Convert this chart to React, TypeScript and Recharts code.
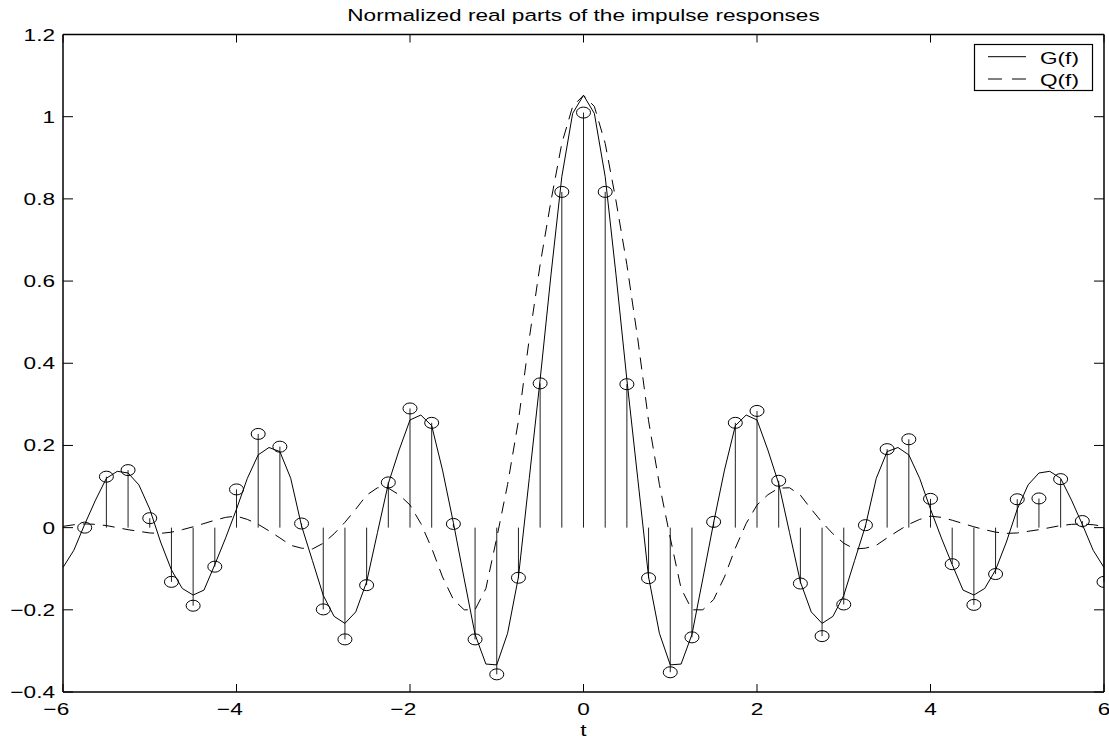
import React from 'react';
import { ComposedChart, Line, Scatter, ErrorBar, XAxis, YAxis } from 'recharts';

const tGrid = [
  -6, -5.875, -5.75, -5.625, -5.5, -5.375, -5.25, -5.125, -5, -4.875, -4.75, -4.625, -4.5, -4.375, -4.25, -4.125,
  -4, -3.875, -3.75, -3.625, -3.5, -3.375, -3.25, -3.125, -3, -2.875, -2.75, -2.625, -2.5, -2.375, -2.25, -2.125,
  -2, -1.875, -1.75, -1.625, -1.5, -1.375, -1.25, -1.125, -1, -0.875, -0.75, -0.625, -0.5, -0.375, -0.25, -0.125,
  0, 0.125, 0.25, 0.375, 0.5, 0.625, 0.75, 0.875, 1, 1.125, 1.25, 1.375, 1.5, 1.625, 1.75, 1.875,
  2, 2.125, 2.25, 2.375, 2.5, 2.625, 2.75, 2.875, 3, 3.125, 3.25, 3.375, 3.5, 3.625, 3.75, 3.875,
  4, 4.125, 4.25, 4.375, 4.5, 4.625, 4.75, 4.875, 5, 5.125, 5.25, 5.375, 5.5, 5.625, 5.75, 5.875, 6,
];

const gValues = [
  -0.097, -0.055, 0.008, 0.067, 0.12, 0.137, 0.133, 0.104, 0.045, -0.035, -0.103, -0.148, -0.164, -0.152, -0.09, -0.025,
  0.045, 0.12, 0.177, 0.195, 0.185, 0.12, 0.004, -0.08, -0.165, -0.216, -0.233, -0.205, -0.132, -0.012, 0.107, 0.189,
  0.262, 0.274, 0.248, 0.14, 0.012, -0.125, -0.26, -0.332, -0.334, -0.257, -0.12, 0.12, 0.36, 0.615, 0.854, 1.008,
  1.052, 1.008, 0.854, 0.615, 0.36, 0.12, -0.12, -0.257, -0.334, -0.332, -0.26, -0.125, 0.012, 0.14, 0.248, 0.274,
  0.262, 0.189, 0.107, -0.012, -0.132, -0.205, -0.233, -0.216, -0.165, -0.08, 0.004, 0.12, 0.185, 0.195, 0.177, 0.12,
  0.045, -0.025, -0.09, -0.152, -0.164, -0.148, -0.103, -0.035, 0.045, 0.104, 0.133, 0.137, 0.12, 0.067, 0.008, -0.055, -0.097,
];

const qValues = [
  0.003, 0.007, 0.009, 0.008, 0.005, 0.0, -0.005, -0.009, -0.013, -0.014, -0.011, -0.005, 0.002, 0.01, 0.018, 0.025,
  0.028, 0.02, 0.008, -0.008, -0.025, -0.043, -0.05, -0.052, -0.038, -0.015, 0.013, 0.045, 0.079, 0.097, 0.096, 0.08,
  0.055, 0.01, -0.05, -0.12, -0.175, -0.2, -0.2, -0.148, -0.025, 0.105, 0.26, 0.46, 0.64, 0.795, 0.935, 1.025,
  1.052, 1.025, 0.935, 0.795, 0.64, 0.46, 0.26, 0.105, -0.025, -0.148, -0.2, -0.2, -0.175, -0.12, -0.05, 0.01,
  0.055, 0.08, 0.096, 0.097, 0.079, 0.045, 0.013, -0.015, -0.038, -0.052, -0.05, -0.043, -0.025, -0.008, 0.008, 0.02,
  0.028, 0.025, 0.018, 0.01, 0.002, -0.005, -0.011, -0.014, -0.013, -0.009, -0.005, 0.0, 0.005, 0.008, 0.009, 0.007, 0.003,
];

const stemT = [
  -5.75, -5.5, -5.25, -5, -4.75, -4.5, -4.25, -4, -3.75, -3.5, -3.25, -3, -2.75, -2.5, -2.25, -2,
  -1.75, -1.5, -1.25, -1, -0.75, -0.5, -0.25, 0, 0.25, 0.5, 0.75, 1, 1.25, 1.5, 1.75, 2,
  2.25, 2.5, 2.75, 3, 3.25, 3.5, 3.75, 4, 4.25, 4.5, 4.75, 5, 5.25, 5.5, 5.75, 6,
];

const stemValues = [
  0.0, 0.124, 0.14, 0.023, -0.132, -0.19, -0.095, 0.093, 0.228, 0.197, 0.01, -0.199, -0.272, -0.14, 0.11, 0.29,
  0.255, 0.009, -0.272, -0.357, -0.122, 0.351, 0.817, 1.01, 0.817, 0.349, -0.123, -0.352, -0.267, 0.014, 0.255, 0.284,
  0.114, -0.136, -0.264, -0.187, 0.006, 0.191, 0.215, 0.07, -0.089, -0.188, -0.113, 0.069, 0.071, 0.118, 0.016, -0.132,
];

const xTicks = [-6, -4, -2, 0, 2, 4, 6];
const yTicks = [-0.4, -0.2, 0, 0.2, 0.4, 0.6, 0.8, 1, 1.2];
const yTickLabels: Record<string, string> = {
  '-0.4': '−0.4', '-0.2': '−0.2', '0': '0', '0.2': '0.2', '0.4': '0.4',
  '0.6': '0.6', '0.8': '0.8', '1': '1', '1.2': '1.2',
};

const titleText = 'Normalized real parts of the impulse responses';
const xLabel = 't';
const seriesNames = ['G(f)', 'Q(f)'];

const curveData = tGrid.map((t, i) => ({ t, g: gValues[i], q: qValues[i] }));
const stemData = stemT.map((t, i) => ({
  t,
  v: stemValues[i],
  err: stemValues[i] >= 0 ? [stemValues[i], 0] : [0, -stemValues[i]],
}));

const FONT = '"Liberation Sans", Arial, Helvetica, sans-serif';
const FS = 17;
const SX = 1.33;
const W = 1109;
const H = 740;

const XTickBottom = (props: any) => {
  const { x, y, payload } = props;
  const v = payload.value as number;
  const neg = v < 0;
  const digits = String(Math.abs(v));
  return (
    <g>
      <line x1={x} y1={y} x2={x} y2={y - 8} stroke="#000" strokeWidth={1} />
      <g transform={`translate(${x},${y + 22.5}) scale(${SX},1)`}>
        <text x={0} y={0} textAnchor="middle" fontSize={FS} fontFamily={FONT} fill="#000">{digits}</text>
        {neg && (
          <text x={-4.9} y={0} textAnchor="end" fontSize={FS} fontFamily={FONT} fill="#000">−</text>
        )}
      </g>
    </g>
  );
};

const XTickTop = (props: any) => {
  const { x, y } = props;
  return <line x1={x} y1={y} x2={x} y2={y + 8} stroke="#000" strokeWidth={1} />;
};

const YTickLeft = (props: any) => {
  const { x, y, payload } = props;
  const label = yTickLabels[String(payload.value)] ?? String(payload.value);
  return (
    <g>
      <line x1={x} y1={y} x2={x + 10} y2={y} stroke="#000" strokeWidth={1} />
      <g transform={`translate(${x - 8},${y + 6}) scale(${SX},1)`}>
        <text x={0} y={0} textAnchor="end" fontSize={FS} fontFamily={FONT} fill="#000">{label}</text>
      </g>
    </g>
  );
};

const YTickRight = (props: any) => {
  const { x, y } = props;
  return <line x1={x} y1={y} x2={x - 10} y2={y} stroke="#000" strokeWidth={1} />;
};

const Circle = (props: any) => {
  const { cx, cy } = props;
  if (cx == null || cy == null) return null;
  return <ellipse cx={cx} cy={cy} rx={7} ry={5.5} fill="none" stroke="#000" strokeWidth={1} />;
};

const axisLineStyle = { stroke: '#000', strokeWidth: 1.5 };

export default function App() {
  return (
    <div style={{ position: 'absolute', left: 0, top: 0, width: W, height: H, background: '#fff' }}>
      <ComposedChart
        width={W}
        height={H}
        data={curveData}
        margin={{ top: 33.5, right: 4, left: 0, bottom: 0 }}
      >
        <XAxis
          xAxisId={0}
          dataKey="t"
          type="number"
          domain={[-6, 6]}
          ticks={xTicks}
          allowDataOverflow
          height={48}
          tickSize={0}
          tickMargin={0}
          tickLine={false}
          axisLine={axisLineStyle}
          tick={<XTickBottom />}
          interval={0}
        />
        <XAxis
          xAxisId="top"
          dataKey="t"
          type="number"
          orientation="top"
          domain={[-6, 6]}
          ticks={xTicks}
          allowDataOverflow
          height={1}
          tickSize={0}
          tickMargin={0}
          tickLine={false}
          axisLine={axisLineStyle}
          tick={<XTickTop />}
          interval={0}
        />
        <YAxis
          yAxisId={0}
          type="number"
          domain={[-0.4, 1.2]}
          ticks={yTicks}
          allowDataOverflow
          width={63}
          tickSize={0}
          tickMargin={0}
          tickLine={false}
          axisLine={axisLineStyle}
          tick={<YTickLeft />}
          interval={0}
        />
        <YAxis
          yAxisId="right"
          orientation="right"
          type="number"
          domain={[-0.4, 1.2]}
          ticks={yTicks}
          allowDataOverflow
          width={1}
          tickSize={0}
          tickMargin={0}
          tickLine={false}
          axisLine={axisLineStyle}
          tick={<YTickRight />}
          interval={0}
        />
        <Scatter
          data={stemData}
          dataKey="v"
          xAxisId={0}
          yAxisId={0}
          shape={<Circle />}
          isAnimationActive={false}
        >
          <ErrorBar dataKey="err" direction="y" width={0} stroke="#222" strokeWidth={1} isAnimationActive={false} />
        </Scatter>
        <Line
          type="linear"
          dataKey="q"
          xAxisId={0}
          yAxisId={0}
          stroke="#000"
          strokeWidth={1}
          strokeDasharray="12 8"
          dot={false}
          activeDot={false}
          isAnimationActive={false}
        />
        <Line
          type="linear"
          dataKey="g"
          xAxisId={0}
          yAxisId={0}
          stroke="#000"
          strokeWidth={1}
          dot={false}
          activeDot={false}
          isAnimationActive={false}
        />
      </ComposedChart>
      <svg
        width={W}
        height={H}
        style={{ position: 'absolute', left: 0, top: 0, pointerEvents: 'none' }}
      >
        <g transform={`translate(583.5,20.7) scale(${SX},1)`}>
          <text x={0} y={0} textAnchor="middle" fontSize={FS} fontFamily={FONT} fill="#000">{titleText}</text>
        </g>
        <g transform={`translate(583.5,736) scale(${SX},1)`}>
          <text x={0} y={0} textAnchor="middle" fontSize={FS} fontFamily={FONT} fill="#000">{xLabel}</text>
        </g>
        <rect x={974.5} y={44.5} width={118} height={46} fill="#fff" stroke="#000" strokeWidth={1.2} />
        <line x1={988} y1={56.7} x2={1026} y2={56.7} stroke="#000" strokeWidth={1} />
        <line x1={988} y1={79} x2={1026} y2={79} stroke="#000" strokeWidth={1} strokeDasharray="14 10" />
        <g transform={`translate(1040,63.5) scale(${SX},1)`}>
          <text x={0} y={0} fontSize={FS} fontFamily={FONT} fill="#000">{seriesNames[0]}</text>
        </g>
        <g transform={`translate(1040,86) scale(${SX},1)`}>
          <text x={0} y={0} fontSize={FS} fontFamily={FONT} fill="#000">{seriesNames[1]}</text>
        </g>
      </svg>
    </div>
  );
}
